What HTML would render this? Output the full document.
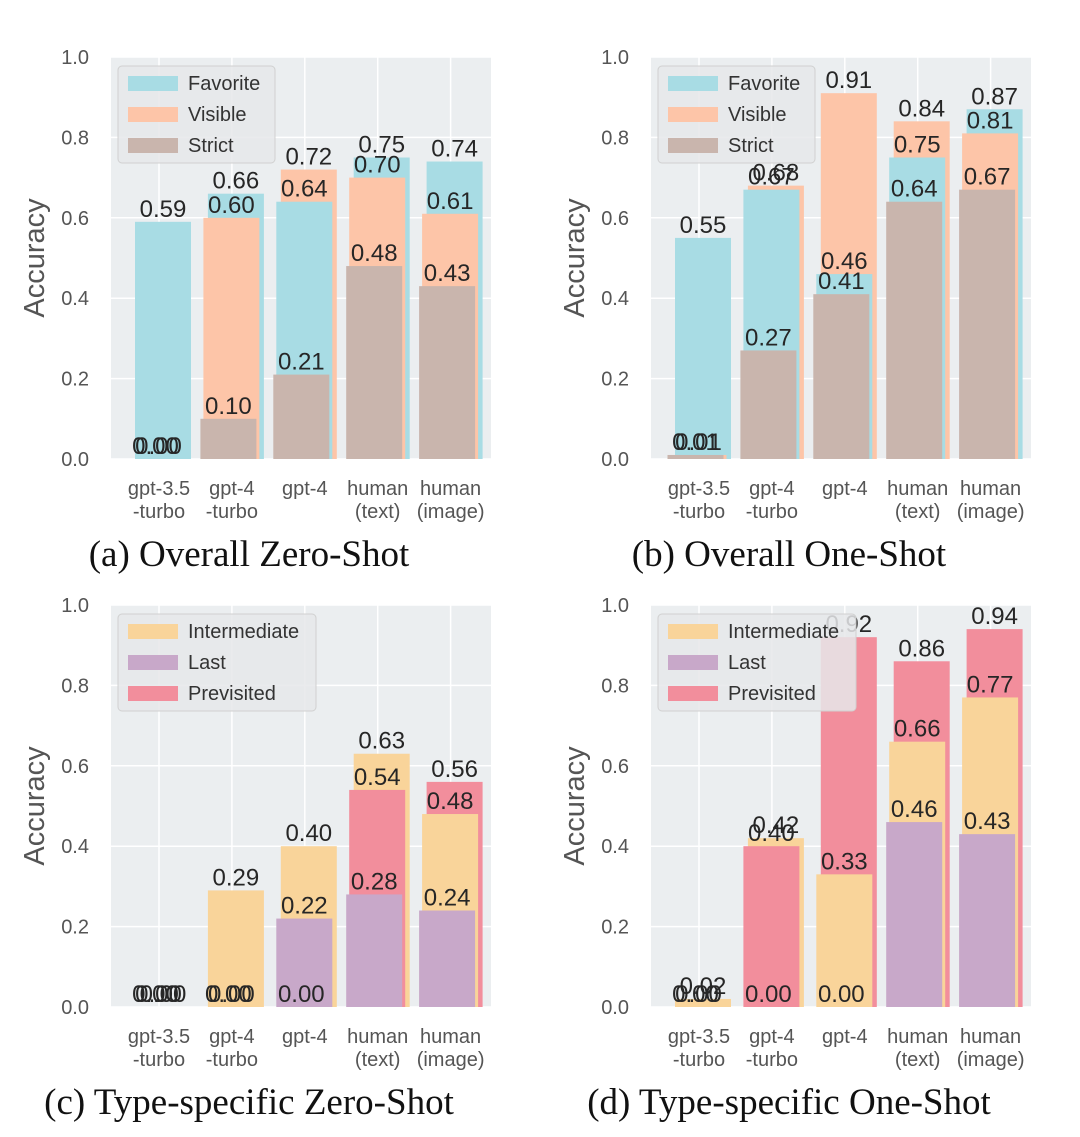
<!DOCTYPE html>
<html><head><meta charset="utf-8"><style>
html,body{margin:0;padding:0;background:#fff;}
svg{display:block;font-family:"Liberation Sans",sans-serif;}
</style></head><body>
<svg id="fig" width="1080" height="1137" viewBox="0 0 1080 1137" xmlns="http://www.w3.org/2000/svg"></svg>
<script>
const categories = [["gpt-3.5","-turbo"],["gpt-4","-turbo"],["gpt-4",""],["human","(text)"],["human","(image)"]];
const yTicks = [0.0,0.2,0.4,0.6,0.8,1.0];
const yTickLabels = ["0.0","0.2","0.4","0.6","0.8","1.0"];
// Overall zero-shot
const aFavorite = [0.59,0.66,0.64,0.75,0.74];
const aVisible  = [0.00,0.60,0.72,0.70,0.61];
const aStrict   = [0.00,0.10,0.21,0.48,0.43];
// Overall one-shot
const bFavorite = [0.55,0.67,0.46,0.75,0.87];
const bVisible  = [0.01,0.68,0.91,0.84,0.81];
const bStrict   = [0.01,0.27,0.41,0.64,0.67];
// Type-specific zero-shot
const cIntermediate = [0.00,0.29,0.40,0.63,0.48];
const cLast         = [0.00,0.00,0.22,0.28,0.24];
const cPrevisited   = [0.00,0.00,0.00,0.54,0.56];
// Type-specific one-shot
const dIntermediate = [0.02,0.42,0.33,0.66,0.77];
const dLast         = [0.00,0.00,0.00,0.46,0.43];
const dPrevisited   = [0.00,0.40,0.92,0.86,0.94];

const NS="http://www.w3.org/2000/svg";
const svg=document.getElementById('fig');
function mk(tag,attrs,parent){const e=document.createElementNS(NS,tag);for(const k in attrs)e.setAttribute(k,attrs[k]);(parent||svg).appendChild(e);return e;}

function drawChart(id,dx,dy,series,title,legendW){
  const L=111+dx,T=57+dy,W=380,H=402;
  const y=v=>T+H-v*H;
  const xc=i=>L+52+72.9*i;
  const g=mk('g',{});
  
  
  const bg=mk('rect',{x:L,y:T,width:W,height:H,fill:'#ebeef0'},g);
  
  
  yTicks.forEach((t,k)=>{
    const gl=mk('line',{x1:L,x2:L+W,y1:y(t),y2:y(t),stroke:'#fff','stroke-width':1.5},g);
    
    
    const tl=mk('text',{x:L-22,y:y(t)+7,'text-anchor':'end','font-size':20,fill:'#555'},g);
    tl.textContent=yTickLabels[k];
    
    
  });
  categories.forEach((c,i)=>{
    const gl=mk('line',{x1:xc(i)-4,x2:xc(i)-4,y1:T,y2:T+H,stroke:'#fff','stroke-width':1.5},g);
    
    
    c.forEach((s,j)=>{ if(!s)return;
      const tl=mk('text',{x:xc(i)-4,y:T+H+36+j*23,'text-anchor':'middle','font-size':20,fill:'#555'},g);
      tl.textContent=s;
      
      
    });
  });
  const offs=[0,-4.5,-7.5];
  const labels=[];
  categories.forEach((c,i)=>{
    const order=series.map((s,si)=>({s,si,v:s.values[i]}));
    order.sort((a,b)=>(b.v-a.v)||(a.si-b.si));
    order.forEach((o,rank)=>{
      const cx=xc(i)+offs[rank];
      const r=mk('rect',{x:cx-28,y:y(o.v),width:56,height:o.v*H,fill:o.s.color},g);
      
      
      labels.push({cx,v:o.v});
    });
  });
  labels.forEach(l=>{
    const t=mk('text',{x:l.cx,y:y(l.v)-5,'text-anchor':'middle','font-size':24,fill:'#262626'},g);
    t.textContent=l.v.toFixed(2);
    
    
  });
  const lg=mk('g',{},g);
  
  
  const lx=L+7,ly=T+9;
  mk('rect',{x:lx,y:ly,width:legendW,height:97,rx:4,fill:'#e6e8ea','fill-opacity':0.85,stroke:'#d0d0d0'},lg);
  series.forEach((s,k)=>{
    const yy=ly+17+k*31;
    mk('rect',{x:lx+10,y:yy-7,width:50,height:15,fill:s.color},lg);
    const t=mk('text',{x:lx+70,y:yy+7,'font-size':20,fill:'#333'},lg);
    t.textContent=s.name;
    
    
  });
  const yl=mk('text',{x:0,y:0,'text-anchor':'middle','font-size':29,fill:'#555',transform:`translate(${dx+44},${T+H/2}) rotate(-90)`},g);
  yl.textContent='Accuracy';
  
  
  const ct=mk('text',{x:dx+249,y:T+H+107,'text-anchor':'middle','font-size':37,fill:'#111','font-family':'"Liberation Serif",serif'},g);
  ct.textContent=title;
  
  
}
const CF='#a8dce4',CV='#fdc5a8',CS='#c9b5ad',CP='#f28e9c',CI='#f9d49a',CL='#c8a8c9';
drawChart('overall-zero',0,0,[{name:'Favorite',values:aFavorite,color:CF},{name:'Visible',values:aVisible,color:CV},{name:'Strict',values:aStrict,color:CS}],'(a) Overall Zero-Shot',157);
drawChart('overall-one',540,0,[{name:'Favorite',values:bFavorite,color:CF},{name:'Visible',values:bVisible,color:CV},{name:'Strict',values:bStrict,color:CS}],'(b) Overall One-Shot',157);
drawChart('type-zero',0,548,[{name:'Intermediate',values:cIntermediate,color:CI},{name:'Last',values:cLast,color:CL},{name:'Previsited',values:cPrevisited,color:CP}],'(c) Type-specific Zero-Shot',198);
drawChart('type-one',540,548,[{name:'Intermediate',values:dIntermediate,color:CI},{name:'Last',values:dLast,color:CL},{name:'Previsited',values:dPrevisited,color:CP}],'(d) Type-specific One-Shot',198);
</script>
</body></html>
